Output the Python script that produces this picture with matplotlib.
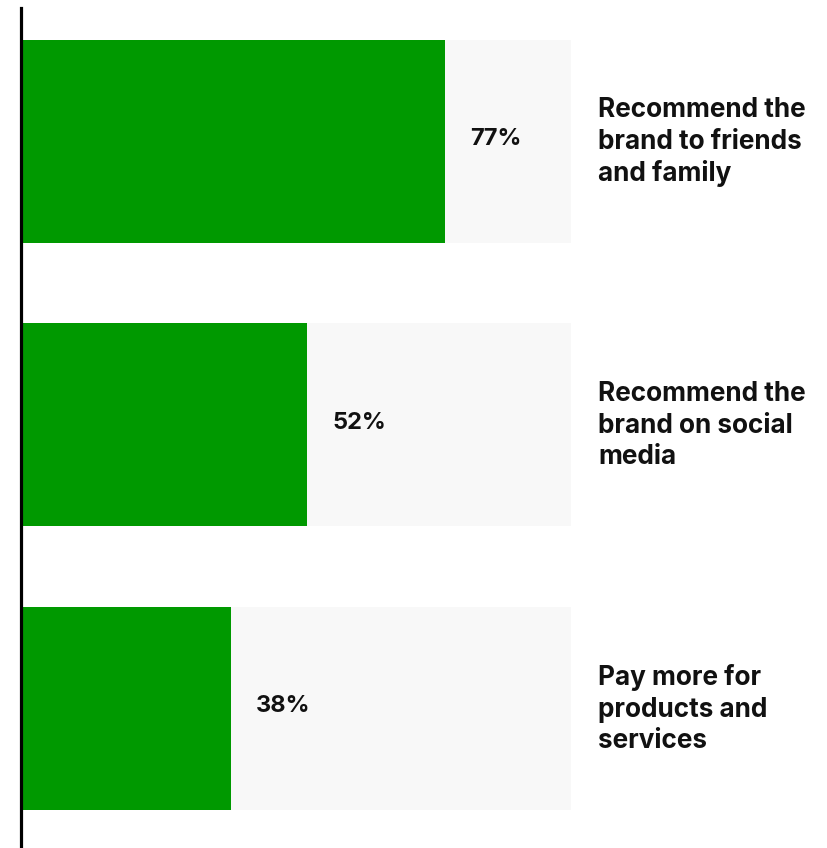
import numpy as np
import matplotlib
matplotlib.use("Agg")
import matplotlib.pyplot as plt

plt.rcParams['font.family'] = ['Inter', 'DejaVu Sans']

categories = ['Recommend the\nbrand to friends\nand family',
              'Recommend the\nbrand on social\nmedia',
              'Pay more for\nproducts and\nservices']
values = [77, 52, 38]

GREEN = '#009900'
TRACK = '#f8f8f8'

W, H = 827, 848
fig = plt.figure(figsize=(W / 100, H / 100), dpi=100)
# axes start right at the vertical rule
ax = fig.add_axes([22 / W, 0, 1 - 22 / W, 1])

pos = np.arange(len(values))
bar_h = 0.716

ax.barh(pos, [100] * len(values), height=bar_h, color=TRACK, zorder=1)
ax.barh(pos, values, height=bar_h, color=GREEN, zorder=2)

for y, v, cat in zip(pos, values, categories):
    ax.annotate(f'{v}%', xy=(v, y), xytext=(18, 1.5), textcoords='offset points',
                ha='left', va='center', fontsize=17, fontweight='bold', color='#111111')
    ax.annotate(cat, xy=(100, y), xytext=(19.5, -0.5), textcoords='offset points',
                ha='left', va='center', fontsize=18.8, fontweight='bold', color='#111111',
                linespacing=1.28)

ax.set_xlim(0, (W - 22) / 5.49)
ax.set_ylim(2.492, -0.499)
# vertical rule, nudged so it sits just left of the bars
fig.add_artist(plt.Line2D([20.5 / W, 20.5 / W], [0, 1 - 8 / H], color='black',
                          lw=2.3, transform=fig.transFigure, zorder=5))
ax.axis('off')

fig.savefig('out.png', dpi=100)
